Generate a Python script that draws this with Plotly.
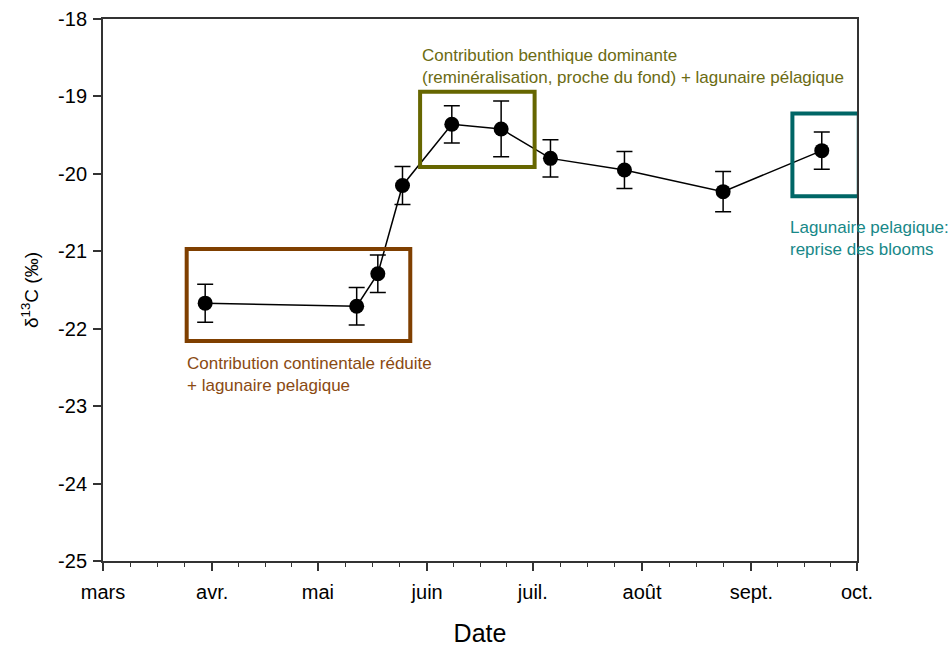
import pandas as pd
import plotly.graph_objects as go

# Sampling dates and mean delta13C values (per mil) with their errors
dates = ["2013-03-30", "2013-05-12", "2013-05-18", "2013-05-25", "2013-06-08",
         "2013-06-22", "2013-07-06", "2013-07-27", "2013-08-24", "2013-09-21"]
d13c = [-21.67, -21.71, -21.29, -20.15, -19.36, -19.42, -19.80, -19.95, -20.23, -19.70]
d13c_err = [0.245, 0.243, 0.243, 0.245, 0.24, 0.36, 0.24, 0.24, 0.26, 0.24]

month_starts = ["2013-03-01", "2013-04-01", "2013-05-01", "2013-06-01",
                "2013-07-01", "2013-08-01", "2013-09-01", "2013-10-01"]
month_labels = ["mars", "avr.", "mai", "juin", "juil.", "août", "sept.", "oct."]
y_ticks = [-25, -24, -23, -22, -21, -20, -19, -18]
y_labels = ["-25", "-24", "-23", "-22", "-21", "-20", "-19", "-18"]

# Highlight boxes: (x0, x1, y0, y1), edge colour, text, text anchor, text colour
boxes = [
    ("2013-03-24 18:00", "2013-05-27 05:00", -20.97, -22.16, "#7f3f00",
     "Contribution continentale réduite<br>+ lagunaire pelagique",
     ("2013-03-24 06:00", -22.30), "#8a4a12"),
    ("2013-05-30 00:00", "2013-07-01 12:00", -18.94, -19.91, "#666600",
     "Contribution benthique dominante<br>(reminéralisation, proche du fond) + lagunaire pélagique",
     ("2013-05-29 20:00", -18.32), "#6b6b12"),
    ("2013-09-12 16:00", "2013-10-01 12:00", -19.22, -20.29, "#006666",
     "Lagunaire pelagique:<br>reprise des blooms",
     ("2013-09-11 12:00", -20.55), "#178888"),
]

# Minor ticks: each month split into quarters
minor_vals = []
for a, b in zip(month_starts[:-1], month_starts[1:]):
    ta, tb = pd.Timestamp(a), pd.Timestamp(b)
    for k in (1, 2, 3):
        minor_vals.append((ta + (tb - ta) * k / 4).strftime("%Y-%m-%d %H:%M"))

FONT = "Liberation Sans, Arial, sans-serif"
AXIS_COL = "#333333"

fig = go.Figure()
fig.add_trace(go.Scatter(
    x=dates, y=d13c, mode="lines+markers",
    line=dict(color="black", width=1.5),
    marker=dict(color="black", size=15),
    error_y=dict(type="data", array=d13c_err, visible=True,
                 color="black", thickness=1.5, width=8),
    showlegend=False, cliponaxis=False,
))

for x0, x1, y0, y1, col, txt, (tx, ty), tcol in boxes:
    fig.add_shape(type="rect", xref="x", yref="y", x0=x0, x1=x1, y0=y0, y1=y1,
                  line=dict(color=col, width=4), fillcolor="rgba(0,0,0,0)")
    fig.add_annotation(x=tx, y=ty, xref="x", yref="y", text=txt, showarrow=False,
                       xanchor="left", yanchor="top", align="left",
                       font=dict(family=FONT, size=17, color=tcol))

fig.update_layout(
    width=950, height=647,
    margin=dict(l=103, r=93, t=19, b=86),
    paper_bgcolor="white", plot_bgcolor="white",
    font=dict(family=FONT, size=18, color="black"),
    xaxis=dict(
        type="date", range=[month_starts[0], month_starts[-1]], automargin=False,
        tickmode="array", tickvals=month_starts, ticktext=month_labels,
        ticks="outside", ticklen=8, tickwidth=1.5, tickcolor=AXIS_COL,
        showline=True, linecolor=AXIS_COL, linewidth=2, mirror=True,
        showgrid=False, zeroline=False,
        tickfont=dict(size=20, color="black"), ticklabelstandoff=4,
        minor=dict(tickmode="array", tickvals=minor_vals, ticks="outside",
                   ticklen=4, tickwidth=1.2, tickcolor=AXIS_COL, showgrid=False),
        title=dict(text="Date", font=dict(size=25, color="black"), standoff=25),
    ),
    yaxis=dict(
        range=[-25, -18], automargin=False,
        tickmode="array", tickvals=y_ticks, ticktext=y_labels,
        ticks="outside", ticklen=8, tickwidth=1.5, tickcolor=AXIS_COL,
        showline=True, linecolor=AXIS_COL, linewidth=2, mirror=True,
        showgrid=False, zeroline=False,
        tickfont=dict(size=20, color="black"), ticklabelstandoff=2,
        title=dict(text="δ<sup>13</sup>C (‰)", font=dict(size=19, color="black"),
                   standoff=14),
    ),
)

fig.write_html("out.html")
